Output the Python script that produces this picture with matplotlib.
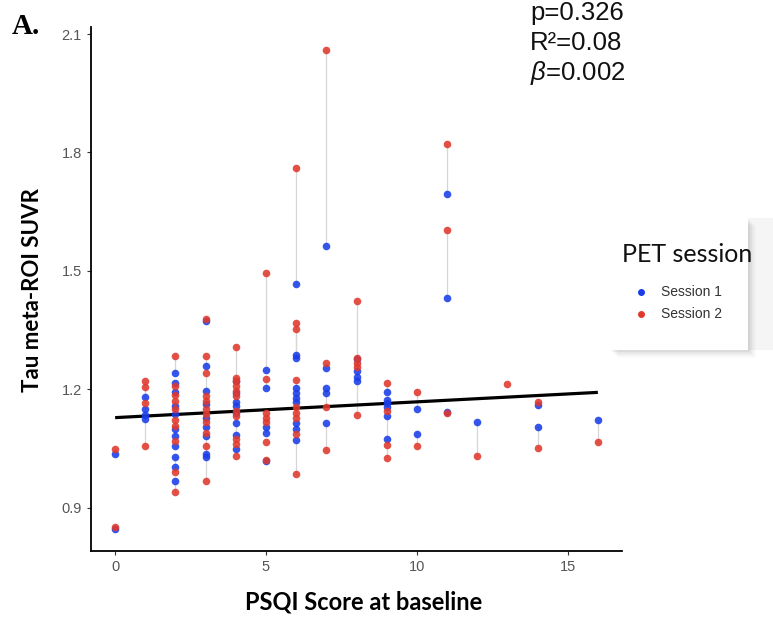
import numpy as np
import matplotlib.pyplot as plt
from matplotlib.patches import Rectangle
from matplotlib.lines import Line2D

nan = np.nan

# one entry per subject: baseline PSQI, tau SUVR at session 1 and session 2
psqi = [0, 0,
        1, 1, 1, 1,
        2, 2, 2, 2, 2, 2, 2, 2, 2, 2, 2,
        3, 3, 3, 3, 3, 3, 3, 3, 3, 3, 3,
        4, 4, 4, 4, 4, 4, 4, 4, 4, 4, 4,
        5, 5, 5, 5, 5, 5, 5,
        6, 6, 6, 6, 6, 6, 6, 6, 6, 6,
        7, 7, 7, 7, 7,
        8, 8, 8, 8, 8,
        9, 9, 9, 9, 9, 9,
        10, 10,
        11, 11, 11,
        12, 13, 14, 14, 16]
suvr_s1 = [1.035, 0.845,
           1.180, 1.150, 1.135, 1.125,
           1.240, 1.215, 1.192, 1.158, 1.137, 1.099, 1.082, 1.056, 1.027, 0.968, 1.002,
           1.372, 1.259, 1.196, 1.162, 1.128, 1.103, 1.082, 1.035, 1.027, nan, nan,
           1.222, 1.190, 1.168, 1.158, 1.140, 1.114, 1.084, 1.048, nan, nan, nan,
           1.249, 1.204, 1.103, 1.090, 1.018, nan, nan,
           1.466, 1.286, 1.280, 1.202, 1.190, 1.179, 1.168, 1.114, 1.072, 1.099,
           1.563, 1.255, 1.204, 1.114, 1.190,
           1.276, 1.246, 1.230, 1.221, nan,
           1.194, 1.165, 1.075, 1.131, 1.173, 1.155,
           1.151, 1.086,
           1.694, 1.432, 1.142,
           1.117, nan, 1.160, 1.105, 1.122]
suvr_s2 = [1.048, 0.850,
           1.222, 1.205, 1.165, 1.055,
           1.284, 1.207, 1.185, 1.170, 1.149, 1.122, 1.106, 1.069, 0.989, 0.940, nan,
           1.378, 1.284, 1.240, 1.183, 1.170, 1.149, 1.137, 1.116, 0.968, 1.090, 1.056,
           1.308, 1.229, 1.208, 1.196, 1.183, 1.145, 1.132, 1.030, 1.221, 1.073, 1.061,
           1.495, 1.227, 1.141, 1.128, 1.020, 1.116, 1.067,
           1.761, 1.369, 1.352, 1.224, 1.156, 1.141, 1.128, 1.086, 0.985, nan,
           2.059, 1.267, 1.156, 1.046, nan,
           1.424, 1.267, 1.257, 1.134, 1.279,
           1.215, 1.145, 1.059, 1.025, nan, nan,
           1.192, 1.056,
           1.822, 1.604, 1.140,
           1.031, 1.214, 1.168, 1.050, 1.067]

# fitted line
fit_x = [0, 16]
fit_y = [1.128, 1.192]

stats_text = ['p=0.326', 'R\u00b2=0.08', r'$\beta$=0.002']
session_labels = ['Session 1', 'Session 2']
session_colors = ['#1a3de8', '#e0392c']

W, H = 773, 618
fig = plt.figure(figsize=(W / 100, H / 100), dpi=100)
plt.rcParams['mathtext.fontset'] = 'custom'
plt.rcParams['mathtext.it'] = 'Liberation Sans:italic'

def fx(px):
    return px / W

def fy(py):
    return 1 - py / H

ax = fig.add_axes([fx(91), fy(551), fx(622) - fx(91), fy(27) - fy(551)])

x = np.array(psqi, dtype=float)
s1 = np.array(suvr_s1)
s2 = np.array(suvr_s2)

# grey segments joining the two sessions of a subject
for xi, a, b in zip(x, s1, s2):
    if not (np.isnan(a) or np.isnan(b)):
        ax.plot([xi, xi], [a, b], color='#d6d6d6', lw=0.9, zorder=1)

ax.plot(fit_x, fit_y, color='black', lw=2.3, zorder=2, solid_capstyle='butt')

for vals, col in zip([s1, s2], session_colors):
    ok = ~np.isnan(vals)
    ax.scatter(x[ok], vals[ok], s=30, color=col, alpha=0.88, lw=0, zorder=3)

ax.set_xlim(-0.8, 16.8)
ax.set_ylim(0.79, 2.118)
ax.set_xticks([0, 5, 10, 15])
ax.set_yticks([0.9, 1.2, 1.5, 1.8, 2.1])
ax.set_yticklabels(['0.9', '1.2', '1.5', '1.8', '2.1'])
for s in ['top', 'right']:
    ax.spines[s].set_visible(False)
for s in ['left', 'bottom']:
    ax.spines[s].set_linewidth(1.3)
    ax.spines[s].set_color('black')
ax.tick_params(length=3, width=0.8, color='#333333', labelcolor='#555555',
               labelsize=10.5, pad=3.5)
for lab in ax.get_xticklabels() + ax.get_yticklabels():
    lab.set_family('Liberation Sans')

fig.text(fx(364), fy(602), 'PSQI Score at baseline', ha='center', va='center',
         family='Lato', weight='bold', fontsize=17)
fig.text(fx(33), fy(290), 'Tau meta-ROI SUVR', ha='center', va='center',
         rotation=90, family='Lato', weight='bold', fontsize=16)

fig.text(fx(12), fy(34), 'A.', family='Liberation Serif', weight='bold',
         fontsize=21, va='baseline')

for i, t in enumerate(stats_text):
    fig.text(fx(530), fy(20 + 30 * i), t, family='Liberation Sans',
             fontsize=18.5, va='baseline', color='#111111')

# legend panel
fig.add_artist(Rectangle((fx(748), fy(350)), fx(773) - fx(748), fy(218) - fy(350),
                         transform=fig.transFigure, facecolor='#f5f5f5', lw=0, zorder=0))
for k, a in enumerate([0.05, 0.04, 0.03, 0.02]):
    off = 2 + 2 * k
    fig.add_artist(Rectangle((fx(610 + off), fy(350 + off)), fx(748) - fx(610),
                             fy(218) - fy(350), transform=fig.transFigure,
                             facecolor='black', alpha=a, lw=0, zorder=0.5))
fig.add_artist(Rectangle((fx(610), fy(350)), fx(748) - fx(610), fy(218) - fy(350),
                         transform=fig.transFigure, facecolor='white', lw=0, zorder=1))
fig.text(fx(622), fy(262), 'PET session', family='Lato', fontsize=18,
         va='baseline', color='#111111', zorder=2)
for i, (lab, col) in enumerate(zip(session_labels, session_colors)):
    yy = fy(292 + 22 * i)
    fig.add_artist(Line2D([fx(641)], [yy], transform=fig.transFigure, marker='o',
                          markersize=4, color=col, lw=0, zorder=2))
    fig.text(fx(661), yy, lab, family='Liberation Sans', fontsize=10,
             va='center', color='#333333', zorder=2)

fig.savefig('out.png', dpi=100)
